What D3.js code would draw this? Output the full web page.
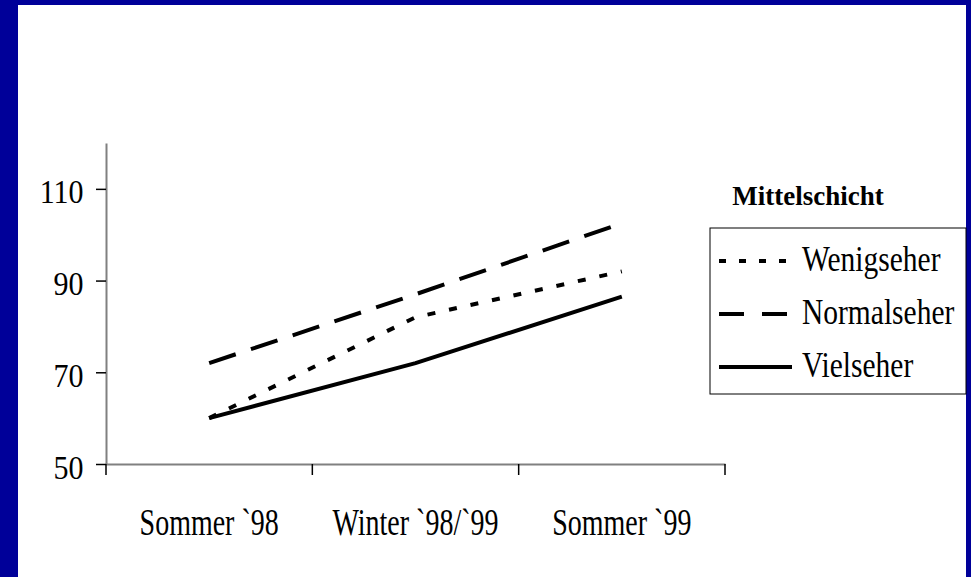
<!DOCTYPE html>
<html>
<head>
<meta charset="utf-8">
<script src="https://cdn.jsdelivr.net/npm/d3@7"></script>
<style>
  body { margin: 0; background: #000099; }
  svg text { font-family: "Liberation Serif", "Times New Roman", serif; fill: #000; }
</style>
</head>
<body>
<svg width="971" height="577"></svg>
<script>
let categories = ["Sommer `98", "Winter `98/`99", "Sommer `99"];
let wenigseher = [60, 82, 92];
let normalseher = [72, 87, 102.5];
let vielseher = [60, 72, 86.5];
let yTicks = [50, 70, 90, 110];
let seriesNames = ["Wenigseher", "Normalseher", "Vielseher"];
let legendTitle = "Mittelschicht";

let svg = d3.select("svg");

// blue frame, white slide area
svg.append("rect")
    .attr("x", 0).attr("y", 0).attr("width", 971).attr("height", 577)
    .attr("fill", "#000099");
svg.append("rect")
    .attr("x", 18).attr("y", 5).attr("width", 948).attr("height", 572)
    .attr("fill", "#fff");

let x = d3.scaleBand().domain(categories).range([106, 725]),
    y = d3.scaleLinear().domain([50, 120]).range([464, 143]);

let series = [
    {name: seriesNames[0], values: wenigseher, dash: "8,14", legendDash: "7,13"},
    {name: seriesNames[1], values: normalseher, dash: "28,16", legendDash: "25,18"},
    {name: seriesNames[2], values: vielseher, dash: null, legendDash: null}
];

// the slide text is drawn taller than wide, so stretch it vertically
function stretch(sel, dx, dy, s) {
    sel.attr("x", null).attr("y", null).attr("dy", null)
        .attr("transform", "translate(" + dx + "," + dy + ") scale(1," + s + ")");
}

// y axis
let yAxis = svg.append("g")
    .attr("transform", "translate(" + x.range()[0] + ",0)")
    .call(d3.axisLeft(y).tickValues(yTicks).tickSizeInner(10).tickSizeOuter(0));
yAxis.select(".domain").attr("stroke", "#808080").attr("stroke-width", 2);
yAxis.selectAll(".tick line").attr("stroke", "#000").attr("stroke-width", 1.5);
yAxis.selectAll(".tick text")
    .style("font-size", "30px")
    .call(stretch, -22.5, 14, 1.13);

// x axis: labels centred in the bands, ticks on band boundaries
let xAxis = svg.append("g")
    .attr("transform", "translate(0," + y(50) + ")")
    .call(d3.axisBottom(x).tickSize(0));
xAxis.select(".domain").attr("stroke", "#808080").attr("stroke-width", 2);
xAxis.selectAll(".tick text")
    .style("font-size", "28px")
    .call(stretch, 0, 71, 1.35);

let bounds = categories.map(function(c) { return x(c); }).concat([x.range()[1]]);
xAxis.selectAll(".bound")
    .data(bounds)
    .enter().append("line")
    .attr("class", "bound")
    .attr("x1", function(d) { return d; })
    .attr("x2", function(d) { return d; })
    .attr("y1", 0)
    .attr("y2", 11)
    .attr("stroke", "#000")
    .attr("stroke-width", 1.5);

let line = d3.line()
    .x(function(d, i) { return x(categories[i]) + x.bandwidth() / 2; })
    .y(function(d) { return y(d); });

svg.selectAll(".series")
    .data(series)
    .enter().append("path")
    .attr("class", "series")
    .attr("d", function(d) { return line(d.values); })
    .attr("fill", "none")
    .attr("stroke", "#000")
    .attr("stroke-width", 4)
    .attr("stroke-dasharray", function(d) { return d.dash; });

// legend
svg.append("text")
    .attr("x", 808)
    .attr("y", 205)
    .attr("text-anchor", "middle")
    .style("font-size", "27px")
    .style("font-weight", "bold")
    .text(legendTitle);

let legend = svg.append("g");
legend.append("rect")
    .attr("x", 710).attr("y", 228)
    .attr("width", 256).attr("height", 166)
    .attr("fill", "#fff")
    .attr("stroke", "#000")
    .attr("stroke-width", 1);

let rowY = [261, 314, 367];
let row = legend.selectAll(".row")
    .data(series)
    .enter().append("g")
    .attr("class", "row")
    .attr("transform", function(d, i) { return "translate(0," + rowY[i] + ")"; });

row.append("line")
    .attr("x1", 719).attr("x2", 792)
    .attr("y1", 0).attr("y2", 0)
    .attr("stroke", "#000")
    .attr("stroke-width", 4)
    .attr("stroke-dasharray", function(d) { return d.legendDash; });

row.append("text")
    .style("font-size", "29.5px")
    .call(stretch, 802, 10, 1.18)
    .text(function(d) { return d.name; });
</script>
</body>
</html>
